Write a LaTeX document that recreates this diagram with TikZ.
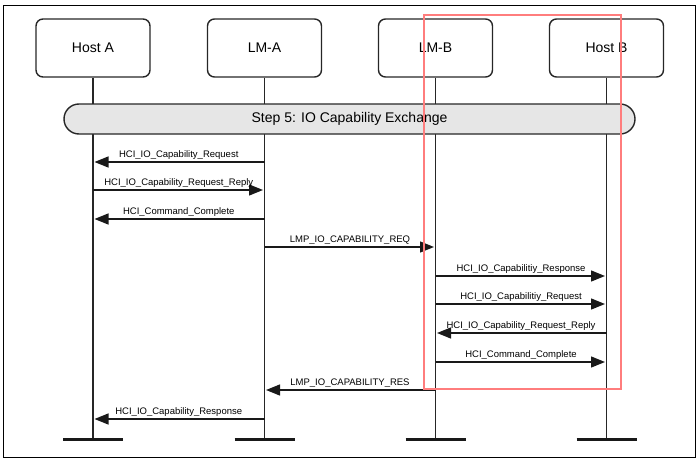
\documentclass[tikz,border=0pt]{standalone}
\usepackage{fontspec}
\setmainfont{Liberation Sans}
\usetikzlibrary{arrows.meta,calc}
\definecolor{bandgray}{HTML}{E6E6E6}
\definecolor{hilite}{RGB}{255,125,125}
\begin{document}
\begin{tikzpicture}[x=1pt,y=-1pt,
  actor/.style={draw=black!85,line width=1.4pt,rounded corners=7pt,minimum width=114pt,minimum height=58pt,inner sep=0pt,font=\fontsize{14}{16}\selectfont},
  lifeline/.style={draw=black!85,line width=1.4pt},
  endbar/.style={line width=3pt,draw=black!90},
  msg/.style={line width=1.3pt,draw=black!90,-{Triangle[length=14pt,width=11pt]},shorten >=1.5pt},
  lbl/.style={anchor=base,inner sep=0pt,yshift=5pt,font=\fontsize{9.5}{11}\selectfont},
  band/.style={draw=black!85,line width=1.4pt,fill=bandgray,rounded corners=15pt,minimum width=571pt,minimum height=30pt,font=\fontsize{14}{16}\selectfont}
]
\useasboundingbox (0,0) rectangle (698,460);
\draw[line width=0.9pt] (3,5) rectangle (695,457);

% actors
\node[actor] (hA) at (93,48) {Host A};
\node[actor] (lA) at (264.5,48) {LM-A};
\node[actor] (lB) at (435.5,48) {LM-B};
\node[actor] (hB) at (606.5,48) {Host B};

% bottom ends
\coordinate (hAe) at (93,439);
\coordinate (lAe) at (264.5,439);
\coordinate (lBe) at (435.5,439);
\coordinate (hBe) at (606.5,439);

\foreach \a in {hA,lA,lB,hB}{
  \draw[lifeline] (\a.south) -- (\a e);
  \draw[endbar] ($(\a e)+(-30,0)$) -- ($(\a e)+(30,0)$);
}

% band
\node[band] (step) at (349.5,119) {Step 5: IO Capability Exchange};

% message coordinates
\foreach \n/\y in {1/162,2/190,3/219,4/247,5/276,6/304,7/333,8/362,9/390,10/419}{
  \coordinate (hA\n) at (hA |- 0,\y);
  \coordinate (lA\n) at (lA |- 0,\y);
  \coordinate (lB\n) at (lB |- 0,\y);
  \coordinate (hB\n) at (hB |- 0,\y);
}

\draw[msg] (lA1) -- (hA1) node[lbl,midway] {HCI\_IO\_Capability\_Request};
\draw[msg] (hA2) -- (lA2) node[lbl,midway] {HCI\_IO\_Capability\_Request\_Reply};
\draw[msg] (lA3) -- (hA3) node[lbl,midway] {HCI\_Command\_Complete};
\draw[msg] (lA4) -- (lB4) node[lbl,midway] {LMP\_IO\_CAPABILITY\_REQ};
\draw[msg] (lB5) -- (hB5) node[lbl,midway] {HCI\_IO\_Capabilitiy\_Response};
\draw[msg] (lB6) -- (hB6) node[lbl,midway] {HCI\_IO\_Capabilitiy\_Request};
\draw[msg] (hB7) -- (lB7) node[lbl,midway] {HCI\_IO\_Capability\_Request\_Reply};
\draw[msg] (lB8) -- (hB8) node[lbl,midway] {HCI\_Command\_Complete};
\draw[msg] (lB9) -- (lA9) node[lbl,midway] {LMP\_IO\_CAPABILITY\_RES};
\draw[msg] (lA10) -- (hA10) node[lbl,midway] {HCI\_IO\_Capability\_Response};

% highlight rectangle
\draw[hilite,line width=1.8pt] (424,15) rectangle (621,389);
\end{tikzpicture}
\end{document}
